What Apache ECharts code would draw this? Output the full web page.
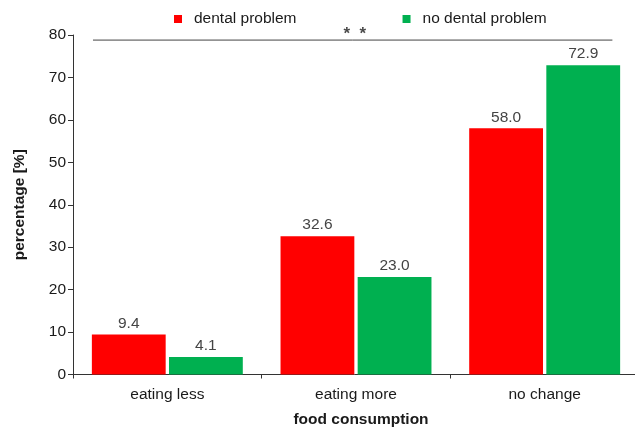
<!DOCTYPE html>
<html>
<head>
<meta charset="utf-8">
<script src="https://cdn.jsdelivr.net/npm/echarts@6/dist/echarts.min.js"></script>
<style>
  html, body { margin: 0; padding: 0; background: #ffffff; }
  #chart { width: 635px; height: 428px; }
</style>
</head>
<body>
<div id="chart"></div>
<script>
// Food consumption change by dental status (percent of respondents)
const categories = ['eating less', 'eating more', 'no change'];
const seriesNames = ['dental problem', 'no dental problem'];
const dentalProblem = [9.4, 32.6, 58.0];
const noDentalProblem = [4.1, 23.0, 72.9];
const yTicks = { min: 0, max: 80, step: 10 };

// Significance bracket across the groups, on a hidden 0..3 value axis
const bracketX = [0.106, 2.859];
const bracketY = 78.8;
const bracketLabel = '*  *';
const bracketLabelX = 1.494;

const FONT = "'Liberation Sans', Arial, Helvetica, sans-serif";
const FS = 15.5;

const chart = echarts.init(document.getElementById('chart'), null, { renderer: 'canvas' });

const valueLabel = {
  show: true,
  position: 'top',
  distance: 3,
  fontFamily: FONT,
  fontSize: FS,
  color: '#444444',
  formatter: p => Number(p.value).toFixed(1)
};

chart.setOption({
  animation: false,
  backgroundColor: '#ffffff',
  textStyle: { fontFamily: FONT },
  grid: {
    left: 73, top: 35, width: 566, height: 339.5,
    containLabel: false,
    outerBoundsMode: 'none'
  },
  legend: {
    data: seriesNames,
    left: 174,
    top: 10.5,
    padding: 0,
    icon: 'rect',
    itemWidth: 8,
    itemHeight: 8,
    itemGap: 106,
    textStyle: {
      fontFamily: FONT,
      fontSize: FS,
      color: '#1a1a1a',
      padding: [0, 0, 0, 7],
      lineHeight: 17
    }
  },
  xAxis: [
    {
      type: 'category',
      data: categories,
      boundaryGap: true,
      axisLine: { show: true, lineStyle: { color: '#333333', width: 1 } },
      axisTick: { show: true, alignWithLabel: false, length: 4, lineStyle: { color: '#333333' } },
      axisLabel: { fontFamily: FONT, fontSize: FS, color: '#1a1a1a', margin: 12 },
      splitLine: { show: false },
      name: 'food consumption',
      nameLocation: 'middle',
      nameGap: 37,
      nameTextStyle: {
        fontFamily: FONT, fontSize: FS, fontWeight: 'bold', color: '#1a1a1a',
        padding: [0, 0, 0, 10]
      }
    },
    {
      type: 'value',
      min: 0,
      max: 3,
      show: false
    }
  ],
  yAxis: {
    type: 'value',
    min: yTicks.min,
    max: yTicks.max,
    interval: yTicks.step,
    axisLine: { show: true, lineStyle: { color: '#333333', width: 1 } },
    axisTick: { show: true, inside: false, length: 5, lineStyle: { color: '#333333' } },
    axisLabel: { fontFamily: FONT, fontSize: FS, color: '#1a1a1a', margin: 7 },
    splitLine: { show: false },
    name: 'percentage [%]',
    nameLocation: 'middle',
    nameGap: 45,
    nameTextStyle: { fontFamily: FONT, fontSize: FS, fontWeight: 'bold', color: '#1a1a1a' }
  },
  series: [
    {
      name: seriesNames[0],
      type: 'bar',
      data: dentalProblem,
      barCategoryGap: '20%',
      barGap: '4.5%',
      itemStyle: { color: '#FF0000' },
      label: valueLabel
    },
    {
      name: seriesNames[1],
      type: 'bar',
      data: noDentalProblem,
      barCategoryGap: '20%',
      barGap: '4.5%',
      itemStyle: { color: '#00B050' },
      label: valueLabel
    },
    {
      name: 'bracket',
      type: 'line',
      xAxisIndex: 1,
      data: bracketX.map(x => [x, bracketY]),
      symbol: 'none',
      clip: false,
      silent: true,
      lineStyle: { color: '#444444', width: 1 }
    },
    {
      name: 'bracketLabel',
      type: 'scatter',
      xAxisIndex: 1,
      data: [[bracketLabelX, bracketY]],
      symbolSize: 0,
      clip: false,
      silent: true,
      label: {
        show: true,
        position: 'top',
        distance: 0,
        offset: [0, 3],
        formatter: bracketLabel,
        fontFamily: FONT,
        fontSize: 17,
        fontWeight: 'bold',
        color: '#1a1a1a'
      }
    }
  ]
});
</script>
</body>
</html>
